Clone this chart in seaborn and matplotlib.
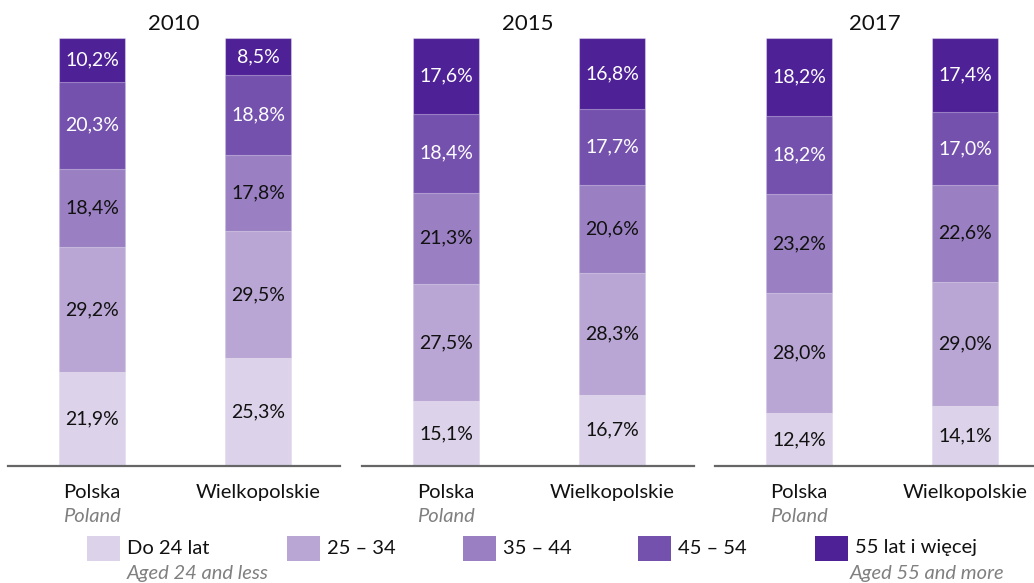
import matplotlib.pyplot as plt
import matplotlib.transforms as mtransforms
from matplotlib.patches import Rectangle
import seaborn as sns
import pandas as pd
import numpy as np

# dane
years = ['2010', '2015', '2017']
regions = ['Polska', 'Wielkopolskie']
groups = ['Do 24 lat', '25 – 34', '35 – 44', '45 – 54', '55 lat i więcej']
colors = ['#dcd3ea', '#b9a6d4', '#9a80c2', '#7551ae', '#4e2196']
text_colors = ['#111111', '#111111', '#111111', 'white', 'white']

polska = {
    '2010': [21.9, 29.2, 18.4, 20.3, 10.2],
    '2015': [15.1, 27.5, 21.3, 18.4, 17.6],
    '2017': [12.4, 28.0, 23.2, 18.2, 18.2],
}
wielkopolskie = {
    '2010': [25.3, 29.5, 17.8, 18.8, 8.5],
    '2015': [16.7, 28.3, 20.6, 17.7, 16.8],
    '2017': [14.1, 29.0, 22.6, 17.0, 17.4],
}

sns.set_theme(style='white')
plt.rcParams['font.family'] = ['Lato', 'DejaVu Sans']

W, H = 1034, 583
fig = plt.figure(figsize=(W / 100, H / 100), dpi=100)


def fx(px):
    return px / W


def fy(py):
    return 1 - py / H


# rozmieszczenie paneli w pikselach
panel_left = [8, 362, 715]
panel_right = [340, 694, 1034]
unit = 166.0        # odstęp środków słupków (px)
first_center = 84.0  # od lewej krawędzi panelu do środka 1. słupka
base_y, top_y = 466, 38

for i, yr in enumerate(years):
    l, r = panel_left[i], panel_right[i]
    ax = fig.add_axes([fx(l), fy(base_y), fx(r - l), (base_y - top_y) / H])

    rows = []
    for reg, src in zip(regions, [polska, wielkopolskie]):
        cum = np.cumsum(src[yr])
        for g, v, c in zip(groups, src[yr], cum):
            rows.append({'region': reg, 'group': g, 'value': v, 'cum': c})
    df = pd.DataFrame(rows)

    # skumulowane słupki: od najwyższego do najniższego
    for g, col in list(zip(groups, colors))[::-1]:
        sub = df[df['group'] == g]
        sns.barplot(data=sub, x='region', y='cum', order=regions, color=col,
                    width=0.4, ax=ax, edgecolor=(1, 1, 1, 0.35), linewidth=0.8,
                    saturation=1)

    # etykiety wartości
    for j, reg in enumerate(regions):
        sub = df[df['region'] == reg].reset_index(drop=True)
        for k in range(len(sub)):
            mid = sub.loc[k, 'cum'] - sub.loc[k, 'value'] / 2
            lab = f"{sub.loc[k, 'value']:.1f}%".replace('.', ',')
            ax.text(j, mid, lab, ha='center', va='center', fontsize=14,
                    color=text_colors[k])

    ax.set_xlim(-first_center / unit, (r - l - first_center) / unit)
    ax.set_ylim(0, 100)
    ax.set_xlabel('')
    ax.set_ylabel('')
    ax.set_yticks([])
    for s in ['top', 'left', 'right']:
        ax.spines[s].set_visible(False)
    ax.spines['bottom'].set_color('#666666')
    ax.spines['bottom'].set_linewidth(1.6)
    ax.tick_params(axis='x', length=0, pad=13, labelsize=14.5, labelcolor='#111111')
    ax.set_title(yr, fontsize=16, pad=6, color='#111111')

    tr = mtransforms.blended_transform_factory(ax.transData, fig.transFigure)
    ax.text(0, fy(517), 'Poland', transform=tr, ha='center', va='center',
            fontsize=14.5, style='italic', color='#808080')

# legenda
sw_x = [87, 287, 463, 638, 815]
for x0, g, col in zip(sw_x, groups, colors):
    fig.add_artist(Rectangle((fx(x0), fy(561)), fx(33), (561 - 536) / H,
                             transform=fig.transFigure, facecolor=col,
                             edgecolor='none'))
    fig.text(fx(x0 + 40), fy(548), g, ha='left', va='center', fontsize=14.5,
             color='#111111')
fig.text(fx(127), fy(573), 'Aged 24 and less', ha='left', va='center',
         fontsize=14.5, style='italic', color='#808080')
fig.text(fx(850), fy(573), 'Aged 55 and more', ha='left', va='center',
         fontsize=14.5, style='italic', color='#808080')

fig.savefig('out.png', dpi=100)
